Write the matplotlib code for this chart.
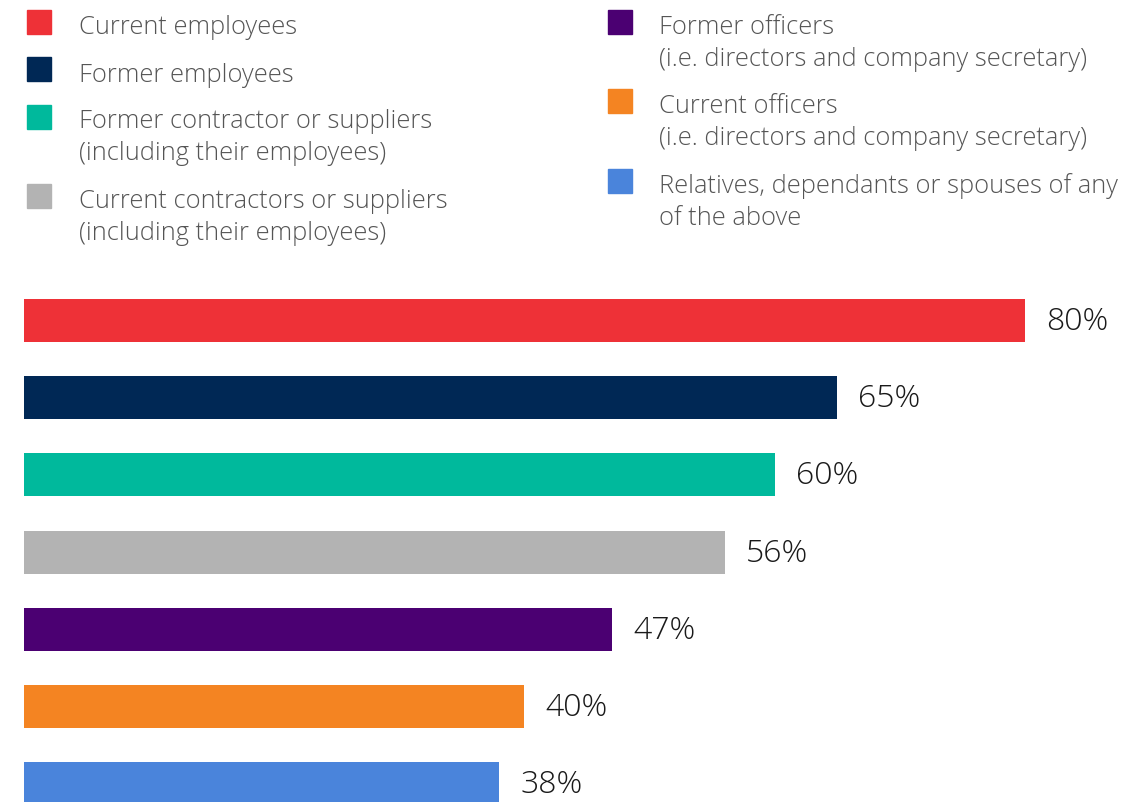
"""
Horizontal bar chart: who can be an eligible whistleblower
"""
import matplotlib
matplotlib.use("Agg")
from matplotlib import pyplot as plt
from matplotlib.patches import Rectangle

categories = ["Current employees",
              "Former employees",
              "Former contractor or suppliers\n(including their employees)",
              "Current contractors or suppliers\n(including their employees)",
              "Former officers\n(i.e. directors and company secretary)",
              "Current officers\n(i.e. directors and company secretary)",
              "Relatives, dependants or spouses of any\nof the above"]
values = [80, 65, 60, 56, 47, 40, 38]
colors = ["#EE3137", "#002855", "#00B99C", "#B3B3B3",
          "#4B0072", "#F48422", "#4A84DB"]

W, H = 1137, 802
plt.rcParams['font.family'] = ['Open Sans', 'DejaVu Sans']

fig = plt.figure(figsize=(W / 100, H / 100), dpi=100)

# bar area: x=0 at 24px, 1% = 12.51px; rows 77.2px apart
ax = fig.add_axes([24 / W, 0, (W - 24) / W, 522 / H])
pitch = 77.2
ax.set_xlim(0, (W - 24) / 12.51)
ax.set_ylim(-0.5246 + 522 / pitch, -0.5246)
ax.barh(range(len(values)), values, height=43 / pitch, color=colors)
for i, v in enumerate(values):
    ax.text(v + 1.7, i + 0.02, f"{v}%", va='center', ha='left',
            fontsize=23, color='#1a1a1a', fontweight='light')
ax.axis('off')

# legend drawn in pixel coordinates
lg = fig.add_axes([0, 0, 1, 1])
lg.set_xlim(0, W)
lg.set_ylim(H, 0)
lg.axis('off')
lg.patch.set_alpha(0)
slots = [(27, 10, 79, 34), (27, 57, 79, 82), (27, 105, 79, 128),
         (27, 184, 79, 208), (608, 10, 659, 34), (608, 89, 659, 113),
         (608, 169, 659, 193)]
for (sx, sy, tx, ty), label, c in zip(slots, categories, colors):
    lg.add_patch(Rectangle((sx, sy), 24, 24, color=c))
    for k, line in enumerate(label.split("\n")):
        lg.text(tx, ty + 32 * k, line, va='baseline', ha='left',
                fontsize=18.4, color='#555555', fontweight='light')

fig.savefig("out.png", dpi=100)
